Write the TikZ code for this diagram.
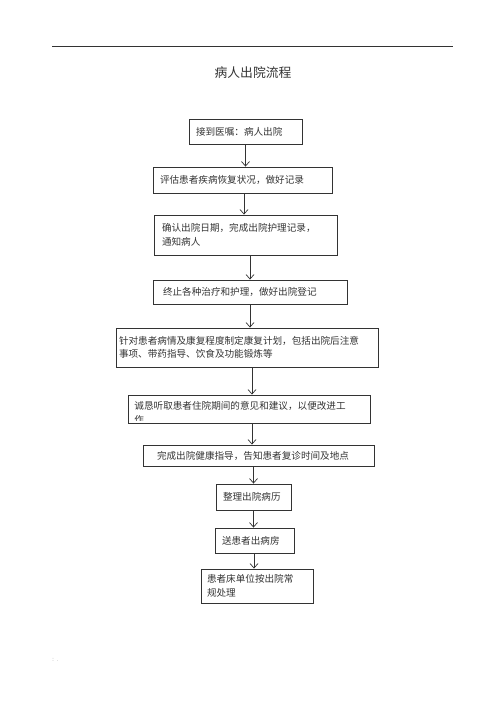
\documentclass[tikz,border=0pt]{standalone}
\usepackage{fontspec}
\usepackage{tikz}
\usetikzlibrary{arrows.meta}
\newfontfamily\cjk{Noto Sans CJK SC}
\definecolor{inkgray}{HTML}{333333}

\begin{document}
\begin{tikzpicture}[x=1pt,y=-1pt,
  box/.style={draw=inkgray,line width=0.9pt,inner sep=0pt,align=left,
    font=\cjk\fontsize{9.6pt}{13.5pt}\selectfont,text=inkgray},
  arr/.style={draw=inkgray,line width=0.7pt,-{Straight Barb[length=4.5pt,width=8pt]}}]
\useasboundingbox (0,0) rectangle (500,708);
\draw [inkgray,line width=0.8pt] (52,46) -- (453,46);
\node [font=\cjk\fontsize{4pt}{4pt}\selectfont,text=gray] (dottop) at (452,42) {.};
\node [font=\cjk\fontsize{12.8pt}{14pt}\selectfont,text=inkgray] (title) at (253,73) {病人出院流程};
\node [box,minimum width=113pt,minimum height=25pt,text width=99pt] (b1) at (245.5,131.5) {接到医嘱：病人出院};
\node [box,minimum width=179pt,minimum height=26pt,text width=165pt] (b2) at (242.5,180) {评估患者疾病恢复状况，做好记录};
\node [box,minimum width=183pt,minimum height=40pt,text width=167pt] (b3) at (245.5,235) {确认出院日期，完成出院护理记录，\\通知病人};
\node [box,minimum width=194pt,minimum height=24pt,text width=174pt] (b4) at (250,292) {终止各种治疗和护理，做好出院登记};
\node [box,minimum width=262pt,minimum height=39pt,text width=256pt] (b5) at (247,347.5) {针对患者病情及康复程度制定康复计划，包括出院后注意\\事项、带药指导、饮食及功能锻炼等};
\begin{scope}
\clip (128,395) rectangle (370,420);
\node [box,draw=none,text width=230pt,anchor=north west] (t6) at (134,401) {诚恳听取患者住院期间的意见和建议，以便改进工\\作};
\end{scope}
\node [box,minimum width=242pt,minimum height=28pt] (b6) at (249,409) {};
\node [box,minimum width=231pt,minimum height=21pt,text width=203pt] (b7) at (258.5,455.5) {完成出院健康指导，告知患者复诊时间及地点};
\node [box,minimum width=75pt,minimum height=26pt,text width=61pt] (b8) at (253.5,497) {整理出院病历};
\node [box,minimum width=79pt,minimum height=25pt,text width=65pt] (b9) at (254.5,540.5) {送患者出病房};
\node [box,minimum width=112pt,minimum height=34pt,text width=100pt] (b10) at (257,586) {患者床单位按出院常\\规处理};
\draw [arr] (b1.south) -- (b1.south |- b2.north);
\draw [arr] ([xshift=1.5pt]b2.south) -- ([xshift=1.5pt]b2.south |- b3.north);
\draw [arr] ([xshift=4.5pt]b3.south) -- (b4.north);
\draw [arr] (b4.south) -- (b4.south |- b5.north);
\draw [arr] ([xshift=5pt]b5.south) -- ([xshift=5pt]b5.south |- b6.north);
\draw [arr] ([xshift=3pt]b6.south) -- ([xshift=3pt]b6.south |- b7.north);
\draw [arr] (b8.north |- b7.south) -- (b8.north);
\draw [arr] (b8.south) -- (b8.south |- b9.north);
\draw [arr] ([xshift=-0.5pt]b9.south) -- ([xshift=-0.5pt]b9.south |- b10.north);
\node [font=\cjk\fontsize{5pt}{5pt}\selectfont,text=gray] (dotbottom) at (55,660) {：.};
\end{tikzpicture}
\end{document}
